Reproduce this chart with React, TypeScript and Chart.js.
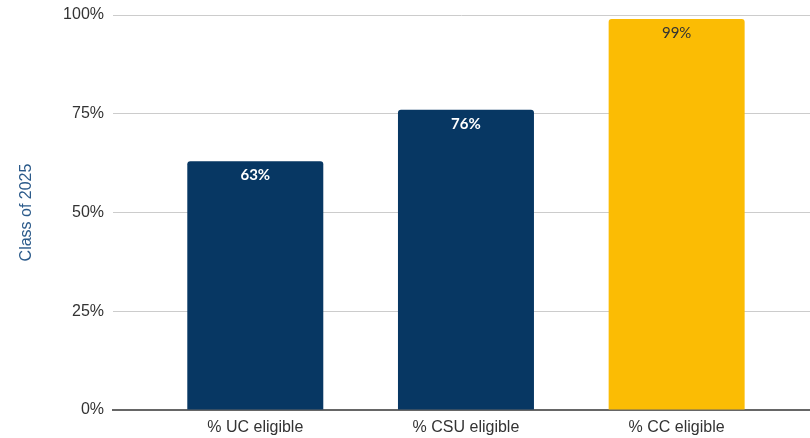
import React, { useEffect, useRef } from "react";
import { Chart, registerables } from "chart.js";

Chart.register(...registerables);

const categories = ["% UC eligible", "% CSU eligible", "% CC eligible"];
const values = [63, 76, 99];
const barColors = ["#073763", "#073763", "#fbbc04"];
const labelColors = ["#ffffff", "#ffffff", "#333333"];
const yTicks = [0, 25, 50, 75, 100];
const yTitle = "Class of 2025";

const valueLabelPlugin = {
  id: "valueLabels",
  afterDatasetsDraw(chart: any) {
    const ctx = chart.ctx;
    const meta = chart.getDatasetMeta(0);
    ctx.save();
    ctx.textAlign = "center";
    ctx.textBaseline = "middle";
    meta.data.forEach((bar: any, i: number) => {
      ctx.fillStyle = labelColors[i];
      ctx.font = i === 2 ? "400 15px Lato, 'Open Sans', sans-serif" : "700 15px Lato, 'Open Sans', sans-serif";
      ctx.fillText(values[i] + "%", bar.x, bar.y + 14);
    });
    ctx.restore();
  },
};

export default function App() {
  const ref = useRef<HTMLCanvasElement | null>(null);
  useEffect(() => {
    document.body.style.margin = "0";
    const chart = new Chart(ref.current as HTMLCanvasElement, {
      type: "bar",
      data: {
        datasets: [
          {
            data: values.map((v, i) => ({ x: i + 1, y: v })),
            backgroundColor: barColors,
            borderRadius: 3,
            borderSkipped: "start",
            categoryPercentage: 1,
            barPercentage: 0.6455,
          } as any,
        ],
      },
      options: {
        animation: false,
        responsive: false,
        maintainAspectRatio: false,
        layout: { padding: { top: 15, bottom: 0, left: 0, right: 0 } },
        plugins: { legend: { display: false }, tooltip: { enabled: false } },
        scales: {
          x: {
            type: "linear",
            offset: false,
            min: 0.3246,
            max: 3.633,
            afterBuildTicks: (scale: any) => {
              scale.ticks = categories.map((_, i) => ({ value: i + 1 }));
            },
            afterFit: (scale: any) => {
              scale.height = 28;
              scale.paddingLeft = 0;
              scale.paddingRight = 0;
            },
            ticks: {
              autoSkip: false,
              maxRotation: 0,
              padding: 8,
              color: "#333333",
              font: { family: "Arial, 'Liberation Sans', sans-serif", size: 16 },
              callback: (v: any) => categories[Number(v) - 1] ?? "",
            },
            grid: { display: false, drawTicks: false },
            border: { display: true, color: "#666666", width: 2 },
          },
          y: {
            min: 0,
            max: 100,
            afterBuildTicks: (scale: any) => {
              scale.ticks = yTicks.map((v) => ({ value: v }));
            },
            afterFit: (scale: any) => {
              scale.width = 113;
              scale.paddingTop = 0;
              scale.paddingBottom = 0;
            },
            ticks: {
              padding: 9,
              color: "#333333",
              font: { family: "Arial, 'Liberation Sans', sans-serif", size: 16 },
              callback: (v: any) => v + "%",
            },
            grid: { color: "#cccccc", lineWidth: 1, drawTicks: false },
            border: { display: false },
            title: {
              display: true,
              text: yTitle,
              color: "#2b5a8a",
              font: { family: "Arial, 'Liberation Sans', sans-serif", size: 16 },
              padding: { top: 17, bottom: 0 },
            },
          },
        },
      },
      plugins: [valueLabelPlugin],
    } as any);
    return () => chart.destroy();
  }, []);
  return (
    <div style={{ width: 810, height: 438, position: "relative" }}>
      <canvas ref={ref} width={810} height={438} style={{ width: 810, height: 438, display: "block" }} />
    </div>
  );
}
